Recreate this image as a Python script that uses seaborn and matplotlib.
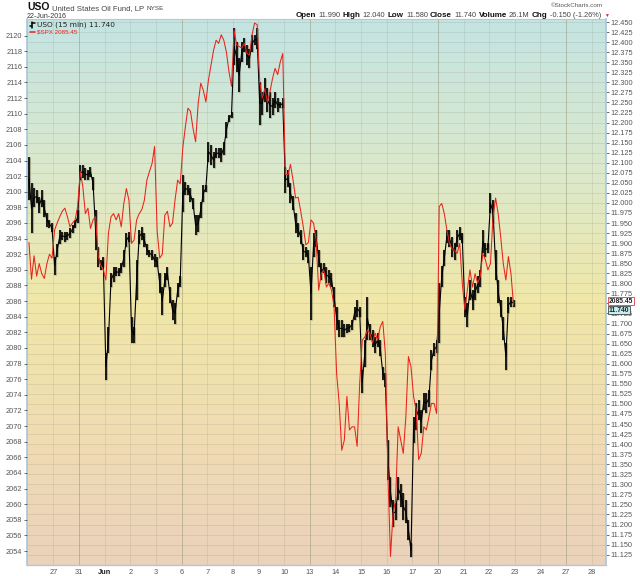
import numpy as np
import pandas as pd
import matplotlib
matplotlib.use('Agg')
import matplotlib.pyplot as plt
import matplotlib.transforms as mtransforms
from matplotlib.lines import Line2D
from matplotlib.colors import LinearSegmentedColormap
import seaborn as sns

# trading sessions shown (10 samples per session)
sessions = ['May 26', 'May 27', 'May 31', 'Jun 1', 'Jun 2', 'Jun 3', 'Jun 6', 'Jun 7',
            'Jun 8', 'Jun 9', 'Jun 10', 'Jun 13', 'Jun 14', 'Jun 15', 'Jun 16', 'Jun 17',
            'Jun 20', 'Jun 21', 'Jun 22']

spx = [2093.5, 2088.8, 2091.8, 2089.2, 2090.8, 2089.5, 2088.9, 2090.8, 2092.0, 2091.5,
       2095.1, 2096.0, 2096.8, 2097.5, 2097.9, 2096.8, 2095.5, 2096.0, 2096.4, 2098.1,
       2102.6, 2100.7, 2097.2, 2097.9, 2095.3, 2096.4, 2096.8, 2091.7, 2090.6, 2090.0,
       2088.7, 2094.7, 2096.8, 2097.2, 2096.4, 2097.2, 2095.5, 2098.5, 2100.4, 2098.9,
       2093.4, 2093.8, 2096.4, 2097.2, 2097.7, 2098.9, 2101.5, 2102.6, 2103.6, 2105.8,
       2095.0, 2091.5, 2092.0, 2097.0, 2097.5, 2095.5, 2096.0, 2099.0, 2101.5, 2101.0,
       2105.6, 2108.3, 2110.7, 2110.3, 2108.1, 2106.4, 2111.3, 2113.9, 2113.0, 2111.5,
       2114.3, 2116.2, 2118.1, 2119.4, 2119.0, 2120.1, 2119.4, 2117.9, 2115.4, 2113.5,
       2120.7, 2118.8, 2118.6, 2118.4, 2119.0, 2117.7, 2117.5, 2120.1, 2121.6, 2121.4,
       2114.1, 2112.0, 2113.2, 2111.5, 2112.8, 2114.5, 2115.8, 2115.0, 2116.6, 2117.7,
       2102.2, 2102.2, 2103.5, 2101.5, 2099.2, 2099.3, 2097.5, 2095.5, 2093.2, 2093.5,
       2096.4, 2096.0, 2093.8, 2087.4, 2089.5, 2090.0, 2087.8, 2088.3, 2087.4, 2085.3,
       2076.7, 2072.9, 2066.9, 2068.2, 2073.8, 2069.5, 2069.9, 2069.9, 2067.4, 2075.5,
       2081.0, 2081.4, 2082.3, 2081.9, 2080.6, 2081.9, 2081.0, 2082.7, 2083.4, 2079.3,
       2063.9, 2053.3, 2058.8, 2060.5, 2069.9, 2068.2, 2066.5, 2071.2, 2078.9, 2077.6,
       2073.8, 2072.1, 2065.7, 2066.5, 2069.9, 2069.5, 2071.2, 2072.9, 2072.9, 2071.6,
       2098.1, 2098.5, 2097.2, 2095.1, 2093.4, 2092.7, 2092.5, 2092.1, 2093.4, 2088.3,
       2084.9, 2087.4, 2090.0, 2087.8, 2089.5, 2088.3, 2089.1, 2092.1, 2091.3, 2090.0,
       2090.8, 2096.8, 2099.2, 2097.2, 2094.2, 2090.8, 2088.7, 2091.7, 2089.5, 2085.5]

uso_hi = [12.115, 12.049, 12.036, 12.032, 12.015, 12.032, 12.007, 11.974, 11.958, 11.949,
          11.866, 11.899, 11.933, 11.928, 11.928, 11.928, 11.937, 11.945, 11.958, 11.982,
          12.094, 12.094, 12.086, 12.082, 12.090, 12.065, 11.982, 11.891, 11.858, 11.866,
          11.626, 11.692, 11.825, 11.841, 11.841, 11.837, 11.850, 11.883, 11.924, 11.928,
          11.717, 11.692, 11.858, 11.933, 11.941, 11.924, 11.899, 11.883, 11.883, 11.874,
          11.866, 11.825, 11.792, 11.825, 11.841, 11.792, 11.758, 11.750, 11.800, 11.817,
          12.069, 12.053, 12.045, 12.036, 12.011, 11.970, 11.970, 12.003, 12.045, 12.045,
          12.152, 12.144, 12.127, 12.136, 12.136, 12.136, 12.152, 12.202, 12.219, 12.227,
          12.434, 12.401, 12.360, 12.401, 12.409, 12.393, 12.384, 12.418, 12.418, 12.434,
          12.302, 12.277, 12.310, 12.285, 12.277, 12.260, 12.277, 12.260, 12.252, 12.260,
          12.090, 12.082, 12.049, 12.016, 11.974, 11.949, 11.933, 11.899, 11.891, 11.883,
          11.841, 11.924, 11.933, 11.883, 11.850, 11.850, 11.841, 11.833, 11.825, 11.792,
          11.742, 11.709, 11.709, 11.700, 11.700, 11.700, 11.709, 11.742, 11.758, 11.742,
          11.584, 11.659, 11.767, 11.700, 11.684, 11.667, 11.676, 11.659, 11.593, 11.576,
          11.410, 11.319, 11.261, 11.253, 11.319, 11.302, 11.278, 11.261, 11.211, 11.153,
          11.468, 11.502, 11.510, 11.485, 11.526, 11.526, 11.535, 11.634, 11.651, 11.659,
          11.800, 11.842, 11.883, 11.933, 11.933, 11.916, 11.900, 11.933, 11.941, 11.924,
          11.767, 11.750, 11.808, 11.784, 11.800, 11.817, 11.833, 11.933, 11.900, 11.900,
          12.024, 12.007, 11.883, 11.808, 11.759, 11.717, 11.651, 11.767, 11.767, 11.759]

uso_lo = [12.007, 11.924, 11.991, 11.999, 11.974, 11.991, 11.966, 11.941, 11.937, 11.928,
          11.821, 11.866, 11.899, 11.908, 11.904, 11.908, 11.912, 11.924, 11.937, 11.949,
          12.057, 12.061, 12.057, 12.057, 12.065, 12.032, 11.883, 11.841, 11.833, 11.841,
          11.559, 11.626, 11.792, 11.804, 11.817, 11.817, 11.825, 11.841, 11.891, 11.904,
          11.651, 11.651, 11.758, 11.899, 11.908, 11.891, 11.870, 11.866, 11.858, 11.841,
          11.841, 11.775, 11.721, 11.792, 11.808, 11.750, 11.709, 11.700, 11.767, 11.792,
          11.978, 12.020, 12.020, 12.003, 11.986, 11.920, 11.928, 11.962, 12.003, 12.028,
          12.103, 12.094, 12.086, 12.111, 12.111, 12.103, 12.119, 12.161, 12.202, 12.210,
          12.343, 12.326, 12.277, 12.351, 12.376, 12.343, 12.335, 12.376, 12.393, 12.384,
          12.194, 12.219, 12.252, 12.227, 12.210, 12.219, 12.235, 12.227, 12.235, 12.235,
          12.024, 12.040, 11.999, 11.982, 11.924, 11.916, 11.899, 11.858, 11.866, 11.850,
          11.709, 11.866, 11.891, 11.841, 11.808, 11.825, 11.800, 11.800, 11.792, 11.742,
          11.684, 11.667, 11.667, 11.667, 11.676, 11.680, 11.684, 11.709, 11.717, 11.717,
          11.526, 11.593, 11.659, 11.659, 11.642, 11.626, 11.642, 11.618, 11.560, 11.543,
          11.311, 11.244, 11.195, 11.211, 11.261, 11.244, 11.211, 11.203, 11.162, 11.118,
          11.402, 11.435, 11.460, 11.427, 11.485, 11.477, 11.493, 11.584, 11.618, 11.626,
          11.651, 11.792, 11.842, 11.900, 11.891, 11.866, 11.858, 11.891, 11.908, 11.900,
          11.717, 11.692, 11.759, 11.734, 11.759, 11.775, 11.792, 11.875, 11.866, 11.875,
          11.974, 11.949, 11.808, 11.750, 11.717, 11.659, 11.585, 11.725, 11.742, 11.742]

# x-axis day labels (one per session start, including the empty future days)
day_labels = ['27', '31', 'Jun', '2', '3', '6', '7', '8', '9', '10', '13', '14', '15',
              '16', '17', '20', '21', '22', '23', '24', '27', '28']
week_starts = ['31', '6', '13', '20', '27']

last_spx = 2085.45
last_uso = 11.740

n_per = len(spx) // len(sessions)
idx = np.arange(len(spx))
df = pd.DataFrame({'t': idx // n_per - 1 + (idx % n_per + 0.5) / n_per,
                   'spx': spx, 'hi': uso_hi, 'lo': uso_lo})
df['mid'] = (df['hi'] + df['lo']) / 2

W, H = 640, 576
sns.set_style('white')
plt.rcParams['font.family'] = ['Liberation Sans', 'DejaVu Sans']

fig = plt.figure(figsize=(W / 100, H / 100), dpi=100)
ax = fig.add_axes([27 / W, 11 / H, 579 / W, 546 / H])
ax_spx = ax.twinx()

# background gradient
cmap = LinearSegmentedColormap.from_list(
    'bg', [(0, '#c3e4e4'), (0.3, '#dde9c9'), (0.52, '#f1e7a8'),
           (0.78, '#f0dbb3'), (1, '#ebd2bc')])
ax.imshow(np.linspace(0, 1, 256)[:, None], aspect='auto', cmap=cmap,
          extent=[0, 1, 0, 1], transform=ax.transAxes, zorder=0)

# USO price bars
ax.vlines(df['t'], df['lo'], df['hi'], color='#76765e', lw=2.2, alpha=0.5, zorder=3)
ax.vlines(df['t'], df['lo'], df['hi'], color='black', lw=1.2, zorder=4)
sns.lineplot(data=df, x='t', y='mid', ax=ax, color='black', lw=0.8, zorder=4)

# SPX overlay
sns.lineplot(data=df, x='t', y='spx', ax=ax_spx, color='#e8231b', lw=0.75, zorder=5)

ax.set_xlim(-1.026, 21.556)
ax.set_ylim(11.0993, 12.4575)
ax_spx.set_ylim(2052.21, 2122.12)

# grid
uso_ticks = np.round(np.arange(11.125, 12.4501, 0.025), 3)
ax.set_yticks(uso_ticks)
# the 11.750 label sits behind the last-value flags, as on the original
ax.set_yticklabels(['' if abs(v - 11.75) < 1e-6 else f'{v:.3f}' for v in uso_ticks])
ax.set_xticks(range(len(day_labels)))
ax.set_xticklabels(day_labels)
ax.set_axisbelow(True)
ax.grid(axis='y', color='#8a8a70', lw=0.6, alpha=0.22)
ax.grid(axis='x', color='#8a8a70', lw=0.6, alpha=0.2)
for i, lab in enumerate(day_labels):
    if lab in week_starts and i > 0:
        ax.axvline(i, color='#8a8a60', lw=0.7, alpha=0.32, zorder=1)

ax.yaxis.tick_right()
ax_spx.yaxis.tick_left()
ax_spx.set_yticks(range(2054, 2121, 2))
ax.set_xlabel('')
ax.set_ylabel('')
ax_spx.set_ylabel('')

ax.tick_params(axis='y', labelsize=5.3, colors='#555555', labelcolor='#555555',
               length=2.5, width=0.6, pad=1)
ax_spx.tick_params(axis='y', labelsize=5.3, colors='#555555', labelcolor='#555555',
                   length=2.5, width=0.6, pad=1)
ax.tick_params(axis='x', labelsize=5.3, labelcolor='#555555', length=0, pad=3)
for lab in ax.get_xticklabels():
    if lab.get_text() == 'Jun':
        lab.set_fontweight('bold')
        lab.set_color('#222222')

for side in ['left', 'right']:
    ax.spines[side].set_color('#a9c5d8')
    ax.spines[side].set_linewidth(1.2)
ax.spines['top'].set_color('#c4c4c4')
ax.spines['top'].set_linewidth(0.8)
ax.spines['bottom'].set_color('#b5c8d2')
ax.spines['bottom'].set_linewidth(1.0)
for s in ax_spx.spines.values():
    s.set_visible(False)

# last value flags on the right
tr_spx = mtransforms.blended_transform_factory(ax.transAxes, ax_spx.transData)
ax_spx.annotate(f'{last_spx:.2f}', xy=(1.0, last_spx), xycoords=tr_spx,
                xytext=(2, 3.1), textcoords='offset points', va='center', ha='left',
                fontsize=4.9, fontweight='bold', color='#222222', annotation_clip=False,
                bbox=dict(boxstyle='square,pad=0.06', fc='white', ec='#e03a3a', lw=0.6))
tr_uso = mtransforms.blended_transform_factory(ax.transAxes, ax.transData)
ax.annotate(f'{last_uso:.3f}', xy=(1.0, last_uso), xycoords=tr_uso,
            xytext=(2, -1.9), textcoords='offset points', va='center', ha='left',
            fontsize=4.9, fontweight='bold', color='#222222', annotation_clip=False,
            bbox=dict(boxstyle='square,pad=0.06', fc='#c6eef0', ec='#444444', lw=0.6))


def fx(x):
    return x / W


def fy(y):
    return 1 - y / H


# header
renderer = fig.canvas.get_renderer()


def text_run(pieces, x, y, align='left', gap=2.5):
    objs = []
    for s, kw in pieces:
        objs.append(fig.text(0, fy(y), s, va='baseline', **kw))
    widths = [o.get_window_extent(renderer).width for o in objs]
    total = sum(widths) + gap * (len(objs) - 1)
    cur = x - total if align == 'right' else x
    for o, w in zip(objs, widths):
        o.set_x(fx(cur))
        cur += w + gap


text_run([('USO', dict(fontsize=7.5, fontweight='bold', color='#111111')),
          ('United States Oil Fund, LP', dict(fontsize=5.6, color='#444444')),
          ('NYSE', dict(fontsize=4.6, color='#444444'))], 27, 10.5)
fig.text(fx(27), fy(17.8), '22-Jun-2016', fontsize=5.0, color='#333333', va='baseline')

hdr = []
for lbl, val in [('Open', '11.990'), ('High', '12.040'), ('Low', '11.580'),
                 ('Close', '11.740'), ('Volume', '26.1M'), ('Chg', '-0.150 (-1.26%)')]:
    hdr.append((lbl, dict(fontsize=5.8, fontweight='bold', color='#111111')))
    hdr.append((val, dict(fontsize=5.3, color='#444444')))
text_run(hdr, 601, 17.0, align='right', gap=2.2)
fig.text(fx(606), fy(16.5), '\u25bc', fontsize=3.5, color='#e02020', va='baseline', ha='center')
fig.text(fx(603), fy(7), '\u00a9StockCharts.com', fontsize=4.5, color='#555555',
         va='baseline', ha='right')

# legend inside the plot
fig.add_artist(Line2D([fx(32), fx(32)], [fy(21.5), fy(27.5)], color='black', lw=1.1))
fig.add_artist(Line2D([fx(30), fx(32)], [fy(26), fy(26)], color='black', lw=1.1))
fig.add_artist(Line2D([fx(32), fx(34.5)], [fy(23), fy(23)], color='black', lw=1.1))
fig.text(fx(37), fy(27), 'USO (15 min) 11.740', fontsize=5.3, color='#222222',
         va='baseline', family=['DejaVu Sans'])
fig.add_artist(Line2D([fx(30), fx(35)], [fy(31.5), fy(31.5)], color='#e8231b', lw=1.1))
fig.text(fx(37), fy(33.5), '$SPX 2085.45', fontsize=4.5, color='#e8231b', va='baseline')

fig.savefig('out.png', dpi=100)
